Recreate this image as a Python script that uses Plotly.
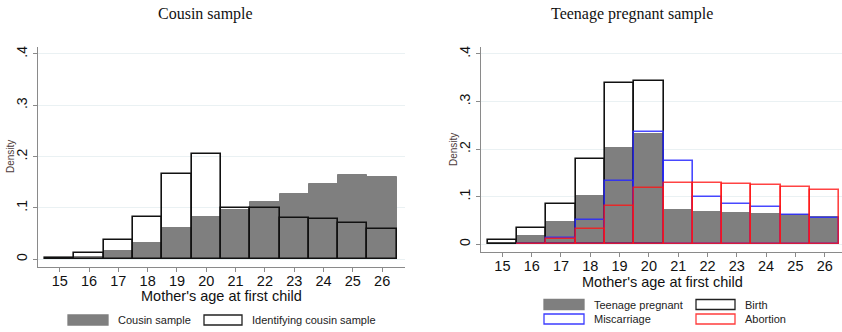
import plotly.graph_objects as go
from plotly.subplots import make_subplots

ages = [15, 16, 17, 18, 19, 20, 21, 22, 23, 24, 25, 26]
x_tick_labels = [str(a) for a in ages]
y_tick_vals = [0, 0.1, 0.2, 0.3, 0.4]
y_tick_text = ["0", ".1", ".2", ".3", ".4"]

# Left panel
cousin_sample = [0.003, 0.004, 0.016, 0.031, 0.061, 0.082, 0.096, 0.112, 0.127, 0.146, 0.165, 0.160]
identifying_cousin = [0.002, 0.012, 0.037, 0.082, 0.167, 0.206, 0.099, 0.099, 0.080, 0.078, 0.071, 0.059]

# Right panel
teenage_pregnant = [0.002, 0.017, 0.046, 0.102, 0.203, 0.231, 0.073, 0.068, 0.066, 0.064, 0.061, 0.057]
birth = [0.010, 0.034, 0.085, 0.179, 0.340, 0.344, None, None, None, None, None, None]
miscarriage = [None, 0.001, 0.014, 0.052, 0.134, 0.236, 0.176, 0.100, 0.084, 0.079, 0.062, 0.055]
abortion = [None, 0.001, 0.011, 0.033, 0.080, 0.118, 0.128, 0.128, 0.127, 0.124, 0.120, 0.115]

GRAY = "#7f7f7f"
BLUE = "rgba(40,40,255,0.85)"
RED = "rgba(255,20,20,0.8)"
FONT = "Liberation Sans, Arial, sans-serif"

fig = make_subplots(rows=1, cols=2)

def filled(y, col):
    fig.add_trace(go.Bar(x=ages, y=y, width=1, marker=dict(color=GRAY, line=dict(color=GRAY, width=1)),
                         showlegend=False, hoverinfo="x+y"), row=1, col=col)

def outline(y, col, color, w=1.6):
    fig.add_trace(go.Bar(x=ages, y=y, width=1, marker=dict(color="rgba(0,0,0,0)", line=dict(color=color, width=w)),
                         showlegend=False, hoverinfo="x+y"), row=1, col=col)

filled(cousin_sample, 1)
outline(identifying_cousin, 1, "#111111")
filled(teenage_pregnant, 2)
outline(birth, 2, "#111111")
outline(miscarriage, 2, BLUE)
outline(abortion, 2, RED)

OFF = 0  # body margin removed by post_script
W, H = 842 - OFF, 332 - OFF
def px_x(p): return (p - OFF) / W
def px_y(p): return 1 - (p - OFF) / H

axis_common = dict(showline=True, linecolor="#8a8a8a", linewidth=1, ticks="outside", tickcolor="#8a8a8a",
                   mirror=False, zeroline=False)

fig.update_layout(
    width=W, height=H, margin=dict(l=0, r=0, t=0, b=0),
    plot_bgcolor="white", paper_bgcolor="white", barmode="overlay", bargap=0,
    font=dict(family=FONT, color="#111111"),
    xaxis=dict(domain=[px_x(38), px_x(405)], range=[14.26, 26.78], tickvals=ages, ticktext=x_tick_labels,
               ticklen=4, ticklabelstandoff=-3, tickfont=dict(size=14.5), showgrid=False, **axis_common),
    yaxis=dict(domain=[px_y(267), px_y(47)], range=[-0.015, 0.4136], tickvals=y_tick_vals, ticktext=y_tick_text,
               tickangle=-90, ticklen=4, tickfont=dict(size=14), showgrid=True, gridcolor="#eaf1f3",
               **axis_common),
    xaxis2=dict(domain=[px_x(481), 1.0], range=[14.27, 26.59], tickvals=ages, ticktext=x_tick_labels,
                ticklen=4, ticklabelstandoff=-3, tickfont=dict(size=14.5), showgrid=False, **axis_common),
    yaxis2=dict(domain=[px_y(252), px_y(47)], range=[-0.0162, 0.4147], tickvals=y_tick_vals, ticktext=y_tick_text,
                tickangle=-90, ticklen=4, tickfont=dict(size=14), showgrid=True, gridcolor="#eaf1f3",
                **axis_common),
)

annotations = [
    dict(text="Cousin sample", x=px_x(205), y=px_y(14), xref="paper", yref="paper", showarrow=False,
         font=dict(family="Liberation Serif, Times New Roman, serif", size=16, color="#111111"),
         xanchor="center", yanchor="middle"),
    dict(text="Teenage pregnant sample", x=px_x(632), y=px_y(14), xref="paper", yref="paper", showarrow=False,
         font=dict(family="Liberation Serif, Times New Roman, serif", size=16, color="#111111"),
         xanchor="center", yanchor="middle"),
    dict(text="Mother's age at first child", x=px_x(221), y=px_y(296), xref="paper", yref="paper",
         showarrow=False, xanchor="center", yanchor="middle", font=dict(size=14.5, color="#111111")),
    dict(text="Mother's age at first child", x=px_x(662), y=px_y(282), xref="paper", yref="paper",
         showarrow=False, xanchor="center", yanchor="middle", font=dict(size=14.5, color="#111111")),
    dict(text="Density", x=px_x(10), y=px_y(157), xref="paper", yref="paper", textangle=-90,
         showarrow=False, xanchor="center", yanchor="middle", font=dict(size=10, color="#4d3c3c")),
    dict(text="Density", x=px_x(453), y=px_y(150), xref="paper", yref="paper", textangle=-90,
         showarrow=False, xanchor="center", yanchor="middle", font=dict(size=10, color="#4d3c3c")),
]
shapes = []

def legend_item(x0, x1, yc, fill, line, label):
    shapes.append(dict(type="rect", xref="paper", yref="paper", x0=px_x(x0), x1=px_x(x1),
                       y0=px_y(yc + 5), y1=px_y(yc - 5), fillcolor=fill, line=dict(color=line, width=1.3)))
    annotations.append(dict(text=label, x=px_x(x1 + 8), y=px_y(yc), xref="paper", yref="paper", showarrow=False,
                            xanchor="left", yanchor="middle", font=dict(size=11, color="#222222")))

legend_item(68, 108, 320, GRAY, GRAY, "Cousin sample")
legend_item(204, 242, 320, "white", "#222222", "Identifying cousin sample")
legend_item(544, 584, 304.5, GRAY, GRAY, "Teenage pregnant")
legend_item(696, 735, 304.5, "white", "#222222", "Birth")
legend_item(544, 584, 319, "white", "rgb(60,60,255)", "Miscarriage")
legend_item(696, 735, 319, "white", "rgb(255,60,60)", "Abortion")

fig.update_layout(annotations=annotations, shapes=shapes)
fig.write_html("out.html", config={"displayModeBar": False},
               post_script="document.body.style.margin='0';document.body.style.overflow='hidden';")
